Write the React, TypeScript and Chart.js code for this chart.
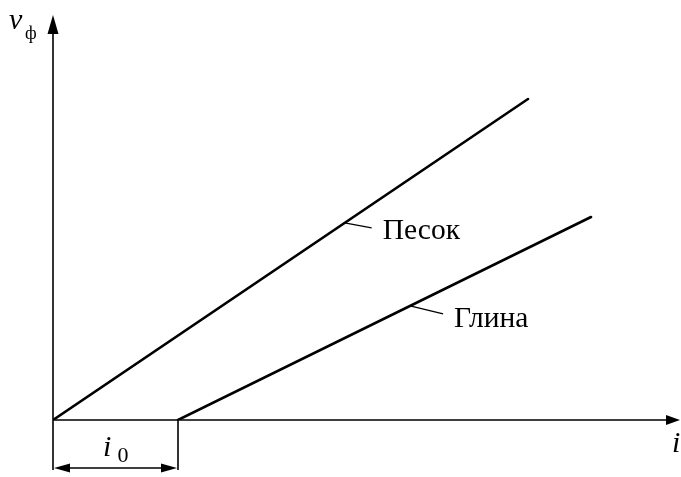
import React, { useEffect, useRef } from "react";
import { Chart, registerables } from "chart.js";

Chart.register(...registerables);

// Filtration velocity v_ф versus hydraulic gradient i
const sandX = [0, 9.5];
const sandY = [0, 6.42];
const clayX = [2.5, 10.76]; // clay starts at the initial gradient i0
const clayY = [0, 4.06];
const seriesNames = ["Песок", "Глина"];
const labelAt = [0.614, 0.562]; // position of each label's leader along its line
const xMax = 12.54;
const yMax = 8.1;

const SERIF = '"Liberation Serif", "Times New Roman", serif';

function arrowHead(ctx: CanvasRenderingContext2D, tx: number, ty: number, dx: number, dy: number, len: number, half: number) {
  const bx = tx - dx * len;
  const by = ty - dy * len;
  ctx.beginPath();
  ctx.moveTo(tx, ty);
  ctx.lineTo(bx - dy * half, by + dx * half);
  ctx.lineTo(bx + dy * half, by - dx * half);
  ctx.closePath();
  ctx.fill();
}

const diagramPlugin = {
  id: "diagram",
  afterDatasetsDraw(chart: any) {
    const ctx: CanvasRenderingContext2D = chart.ctx;
    const xs = chart.scales.x;
    const ys = chart.scales.y;
    const x0 = xs.getPixelForValue(0);
    const y0 = ys.getPixelForValue(0);
    const top = chart.chartArea.top;
    const right = chart.chartArea.right;
    const dimY = y0 + 48;
    const xi0 = xs.getPixelForValue(clayX[0]);

    ctx.save();
    ctx.strokeStyle = "#000";
    ctx.fillStyle = "#000";
    ctx.lineWidth = 1.6;

    // axes
    ctx.beginPath();
    ctx.moveTo(x0, dimY + 2);
    ctx.lineTo(x0, top + 14);
    ctx.moveTo(x0, y0);
    ctx.lineTo(right - 10, y0);
    // extension line at i0
    ctx.moveTo(xi0, y0);
    ctx.lineTo(xi0, dimY + 2);
    // dimension line
    ctx.moveTo(x0 + 10, dimY);
    ctx.lineTo(xi0 - 10, dimY);
    ctx.stroke();
    arrowHead(ctx, x0, top, 0, -1, 19, 5.5);
    arrowHead(ctx, right, y0, 1, 0, 14, 5);
    arrowHead(ctx, x0 + 1, dimY, -1, 0, 16, 4.5);
    arrowHead(ctx, xi0 - 1, dimY, 1, 0, 16, 4.5);

    // series labels with leader lines
    const leaders = [
      { xs: sandX, ys: sandY, dx: 27, dy: 5, tx: 38, ty: 8 },
      { xs: clayX, ys: clayY, dx: 33, dy: 8, tx: 44, ty: 13 },
    ];
    ctx.lineWidth = 1.3;
    ctx.font = `29.5px ${SERIF}`;
    ctx.textBaseline = "middle";
    ctx.textAlign = "left";
    leaders.forEach((l, i) => {
      const ax = xs.getPixelForValue(l.xs[0]);
      const ay = ys.getPixelForValue(l.ys[0]);
      const bx = xs.getPixelForValue(l.xs[1]);
      const by = ys.getPixelForValue(l.ys[1]);
      const t = labelAt[i];
      const px = ax + (bx - ax) * t;
      const py = ay + (by - ay) * t;
      ctx.beginPath();
      ctx.moveTo(px, py);
      ctx.lineTo(px + l.dx, py + l.dy);
      ctx.stroke();
      ctx.fillText(seriesNames[i], px + l.tx, py + l.ty);
    });

    // axis titles
    ctx.textBaseline = "alphabetic";
    ctx.font = `italic 30px ${SERIF}`;
    ctx.fillText("v", x0 - 44, top + 14);
    ctx.font = `18px ${SERIF}`;
    ctx.fillText("ф", x0 - 28, top + 24);
    ctx.font = `italic 30px ${SERIF}`;
    ctx.fillText("i", right - 8, y0 + 32);
    ctx.fillText("i", x0 + 50, dimY - 12);
    ctx.font = `22px ${SERIF}`;
    ctx.fillText("0", (x0 + xi0) / 2 + 2, dimY - 6);
    ctx.restore();
  },
};

export default function App() {
  const ref = useRef<HTMLCanvasElement>(null);

  useEffect(() => {
    document.body.style.margin = "0";
    const chart = new Chart(ref.current!, {
      type: "scatter",
      data: {
        datasets: [
          {
            label: seriesNames[0],
            data: sandX.map((x, i) => ({ x, y: sandY[i] })),
            showLine: true,
            borderColor: "#000",
            borderWidth: 2.6,
            pointRadius: 0,
            borderCapStyle: "round",
          },
          {
            label: seriesNames[1],
            data: clayX.map((x, i) => ({ x, y: clayY[i] })),
            showLine: true,
            borderColor: "#000",
            borderWidth: 2.6,
            pointRadius: 0,
            borderCapStyle: "round",
          },
        ],
      },
      options: {
        animation: false,
        responsive: false,
        layout: { padding: { left: 53, right: 1, top: 15, bottom: 57 } },
        plugins: { legend: { display: false }, tooltip: { enabled: false } },
        scales: {
          x: { type: "linear", min: 0, max: xMax, display: false },
          y: { type: "linear", min: 0, max: yMax, display: false },
        },
      },
      plugins: [diagramPlugin],
    });
    return () => chart.destroy();
  }, []);

  return (
    <div style={{ position: "fixed", left: 0, top: 0, width: 681, height: 477, background: "#fff" }}>
      <canvas ref={ref} width={681} height={477} />
    </div>
  );
}
